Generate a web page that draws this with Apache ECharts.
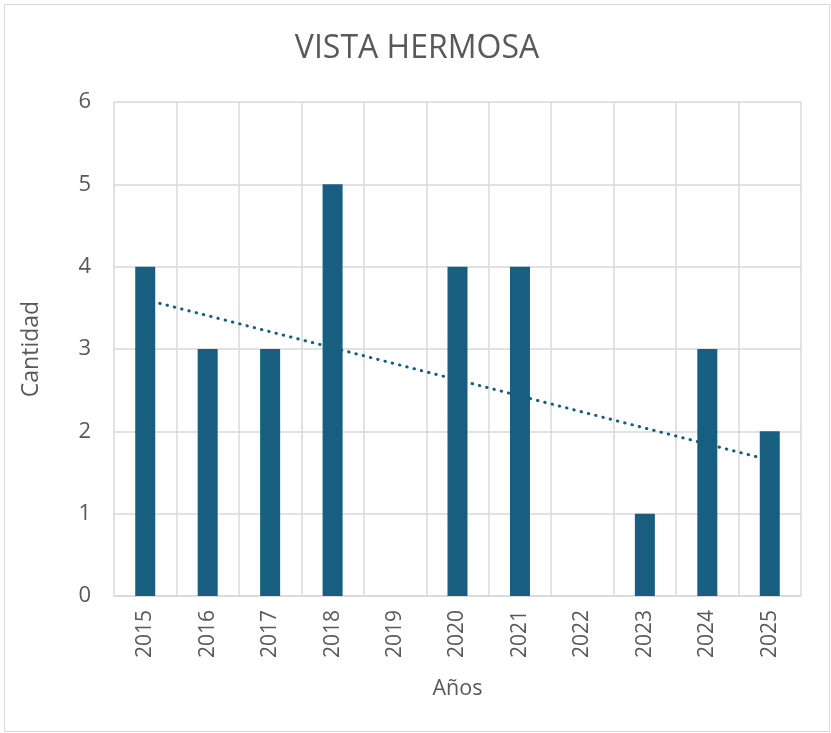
<!DOCTYPE html>
<html>
<head>
<meta charset="utf-8">
<script src="https://cdn.jsdelivr.net/npm/echarts@6/dist/echarts.min.js"></script>
<style>
  html, body { margin: 0; padding: 0; background: #fff; }
  #chart { position: absolute; left: 4px; top: 4px; width: 826px; height: 728px; border: 1px solid #d9d9d9; box-sizing: border-box; }
</style>
</head>
<body>
<div id="chart"></div>
<script>
  // datos
  const years = ['2015', '2016', '2017', '2018', '2019', '2020', '2021', '2022', '2023', '2024', '2025']
  const cantidad = [4, 3, 3, 5, 0, 4, 4, 0, 1, 3, 2]
  // linea de tendencia (extremos)
  const trendStart = ['2015', 3.6]
  const trendEnd = ['2025', 1.65]
  const yTicks = [0, 1, 2, 3, 4, 5, 6]

  const font = 'Open Sans'
  const gray = '#595959'
  const barColor = '#175e80'

  const chart = echarts.init(document.getElementById('chart'))
  chart.setOption({
    animation: false,
    title: {
      text: 'VISTA HERMOSA',
      left: 'center',
      top: 23,
      textStyle: { fontFamily: font, fontSize: 32, fontWeight: 'normal', color: gray }
    },
    grid: { left: 109, right: 28, top: 97, bottom: 135 },
    xAxis: {
      type: 'category',
      data: years,
      name: 'Años',
      nameLocation: 'middle',
      nameGap: 82,
      nameTextStyle: { fontFamily: font, fontSize: 21.5, color: gray },
      axisLine: { lineStyle: { color: '#d9d9d9', width: 1.5 } },
      axisTick: { show: false },
      axisLabel: { rotate: 90, margin: 14, fontFamily: font, fontSize: 21, color: gray },
      splitLine: { show: true, lineStyle: { color: '#d9d9d9', width: 1.5 } }
    },
    yAxis: {
      type: 'value',
      min: yTicks[0],
      max: yTicks[yTicks.length - 1],
      interval: 1,
      name: 'Cantidad',
      nameLocation: 'middle',
      nameGap: 71,
      nameTextStyle: { fontFamily: font, fontSize: 23, color: gray },
      axisLine: { show: false },
      axisTick: { show: false },
      axisLabel: { margin: 23, fontFamily: font, fontSize: 22, color: gray },
      splitLine: { lineStyle: { color: '#d9d9d9', width: 1.5 } }
    },
    series: [
      {
        name: 'Cantidad',
        type: 'bar',
        data: cantidad,
        barWidth: 20,
        z: 3,
        itemStyle: { color: barColor }
      },
      {
        name: 'Tendencia',
        type: 'line',
        data: [trendStart, trendEnd],
        symbol: 'none',
        z: 2,
        lineStyle: { color: barColor, width: 3, type: [0.5, 7], cap: 'round' }
      }
    ]
  })
</script>
</body>
</html>
